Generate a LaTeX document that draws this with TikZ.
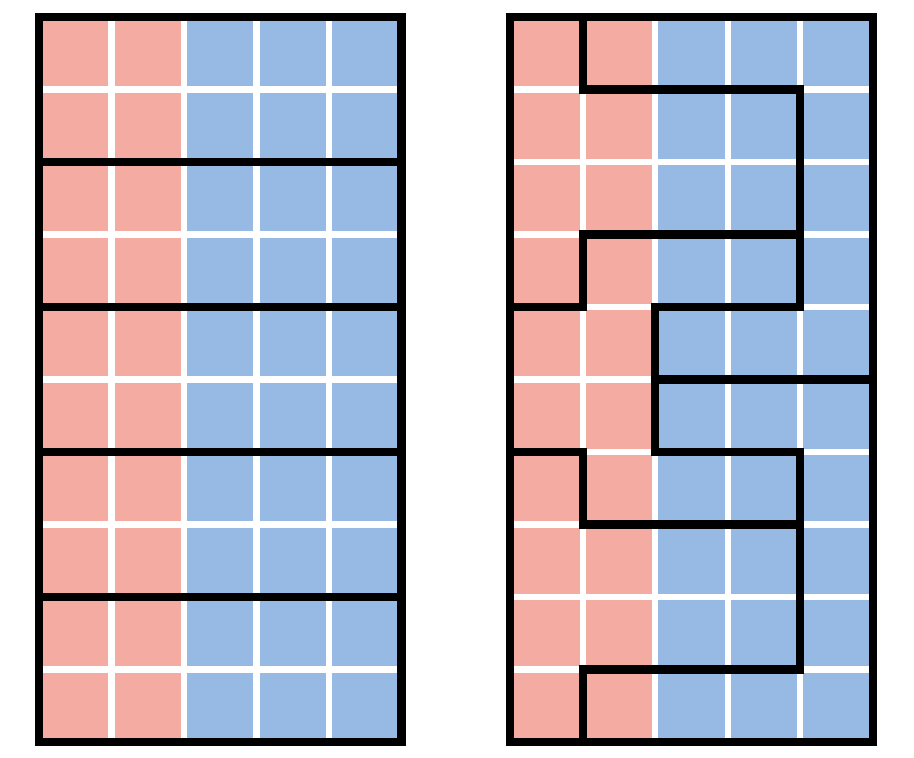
\documentclass[tikz,border=0pt]{standalone}
\usepackage{tikz}
\definecolor{votered}{RGB}{243,171,162}
\definecolor{voteblue}{RGB}{151,186,229}

\begin{document}
\begin{tikzpicture}[x=1cm, y=1cm,
    gridline/.style={white, line width=2.4pt},
    border/.style={black, line width=3.2pt, line cap=rect, line join=miter}]

    \useasboundingbox (-0.538,-0.221) rectangle (12.069,10.234);

    % 1. Left map (straight horizontal districts)
    \begin{scope}
        \fill[votered] (0,0) rectangle (2,10);
        \fill[voteblue] (2,0) rectangle (5,10);
        \foreach \x in {1,...,4} {
            \draw[gridline] (\x,0) -- (\x,10);
        }
        \foreach \y in {1,...,9} {
            \draw[gridline] (0,\y) -- (5,\y);
        }
        % district boundaries
        \foreach \y in {2,4,...,8} {
            \draw[border] (0,\y) -- (5,\y);
        }
        \draw[border] (0,0) rectangle (5,10);
    \end{scope}

    % 2. Right map (gerrymandered districts)
    \begin{scope}[xshift=6.5cm]
        \fill[votered] (0,0) rectangle (2,10);
        \fill[voteblue] (2,0) rectangle (5,10);
        \foreach \x in {1,...,4} {
            \draw[gridline] (\x,0) -- (\x,10);
        }
        \foreach \y in {1,...,9} {
            \draw[gridline] (0,\y) -- (5,\y);
        }
        % district boundaries
        \draw[border] (1,10) -- (1,9) -- (4,9) -- (4,6) -- (2,6) -- (2,4)
            -- (4,4) -- (4,1) -- (1,1) -- (1,0);
        \draw[border] (0,6) -- (1,6) -- (1,7) -- (4,7);
        \draw[border] (2,5) -- (5,5);
        \draw[border] (0,4) -- (1,4) -- (1,3) -- (4,3);
        \draw[border] (0,0) rectangle (5,10);
    \end{scope}

\end{tikzpicture}
\end{document}
